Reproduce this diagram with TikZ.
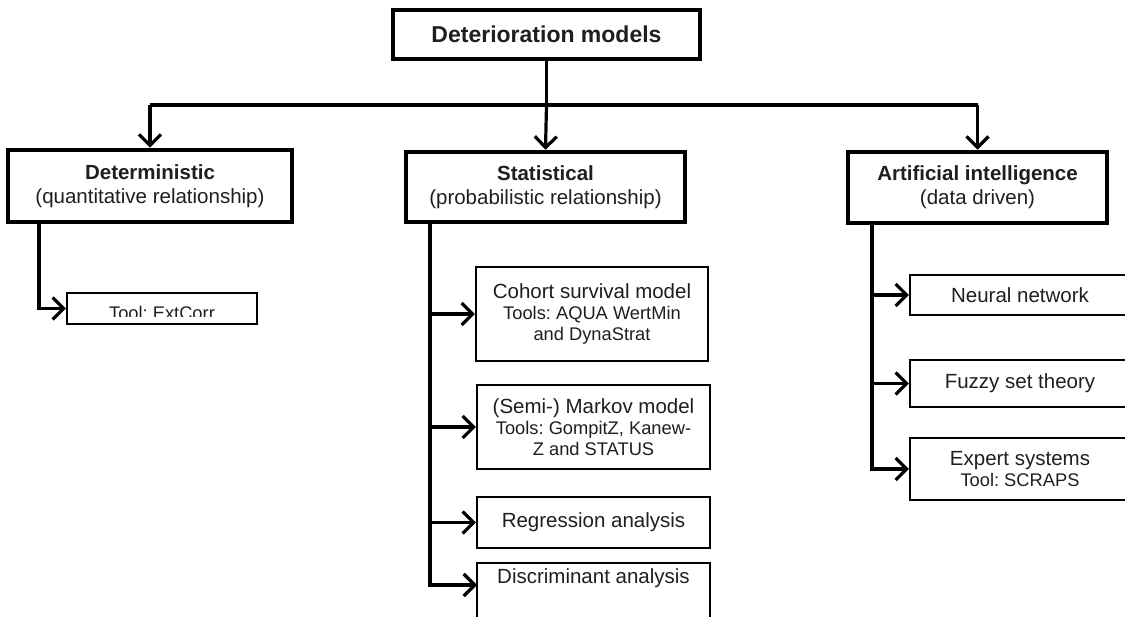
\documentclass[tikz,border=0pt]{standalone}
\usepackage{fontspec}
\setmainfont{Liberation Sans}
\usetikzlibrary{arrows.meta}
\newcommand\toolfont{\fontsize{18.3}{21}\selectfont}
\frenchspacing
\begin{document}
\begin{tikzpicture}[x=1pt,y=-1pt,
  bigbox/.style={draw, line width=4.5pt, inner sep=0pt, align=center, text=black!88, font=\fontsize{20.5}{24}\selectfont},
  smallbox/.style={draw, line width=2.2pt, inner sep=0pt, align=center, text=black!88, font=\fontsize{20.5}{21}\selectfont},
  conn/.style={line width=3.2pt},
  arr/.style={conn, -{Straight Barb[length=11pt,width=22pt,line join=miter]}},
]
\useasboundingbox (0,0) rectangle (1125,617);
\clip (0,0) rectangle (1125,617);
\fill[white] (0,0) rectangle (1125,617);

% top level
\node[bigbox, minimum width=307, minimum height=49, font=\fontsize{23}{26}\selectfont\bfseries] (title) at (546.5,34.5) {Deterioration models};
\node[bigbox, minimum width=284, minimum height=72] (det) at (150,186) {\textbf{Deterministic}\\(quantitative relationship)};
\node[bigbox, minimum width=279, minimum height=70] (stat) at (545.5,187) {\textbf{Statistical}\\(probabilistic relationship)};
\node[bigbox, minimum width=259, minimum height=71] (ai) at (977.5,187.5) {\textbf{Artificial intelligence}\\(data driven)};

\coordinate (hub) at (546.5,105);
\coordinate (hl) at (150,105);
\coordinate (hr) at (977.5,105);
\draw[conn] (title.south) -- (hub);
\draw[conn] (hl) -- (hr);
\draw[arr] (hl) -- (det.north);
\draw[arr] (hub) -- (stat.north);
\draw[arr] (hr) -- (ai.north);

% deterministic branch
\node[smallbox, minimum width=190, minimum height=31] (ext) at (162,308.5) {};
\begin{scope}
  \clip (70,296) rectangle (254,317);
  \node[anchor=base, inner sep=0pt, text=black!88, font=\toolfont] (extt) at (162,320) {Tool: ExtCorr};
\end{scope}
\draw[arr] (det.south -| 39,0) |- (ext.west);

% statistical branch
\node[smallbox, minimum width=232, minimum height=94] (coh) at (592,314) {Cohort survival model\\\toolfont Tools: AQUA WertMin\\\toolfont and DynaStrat};
\node[smallbox, minimum width=233, minimum height=84] (mark) at (593.5,427) {(Semi-) Markov model\\\toolfont Tools: GompitZ, Kanew-\\\toolfont Z and STATUS};
\node[smallbox, minimum width=233, minimum height=51] (reg) at (593.5,522.5) {Regression analysis};
\node[smallbox, minimum width=233, minimum height=80, anchor=north] (disc) at (593.5,562) {};
\node[inner sep=0pt, text=black!88, font=\fontsize{20.5}{21}\selectfont] (disct) at (593.5,578) {Discriminant analysis};
\coordinate (discin) at (477,585);
\draw[arr] (stat.south -| 430,0) |- (coh.west);
\draw[arr] (stat.south -| 430,0) |- (mark.west);
\draw[arr] (stat.south -| 430,0) |- (reg.west);
\draw[arr] (stat.south -| 430,0) |- (discin);

% AI branch
\node[smallbox, minimum width=220, minimum height=40] (neur) at (1020,295) {Neural network};
\node[smallbox, minimum width=220, minimum height=47] (fuz) at (1020,383.5) {Fuzzy set theory};
\node[smallbox, minimum width=220, minimum height=62] (exp) at (1020,469) {Expert systems\\\toolfont Tool: SCRAPS};
\draw[arr] (ai.south -| 872,0) |- (neur.west);
\draw[arr] (ai.south -| 872,0) |- (fuz.west);
\draw[arr] (ai.south -| 872,0) |- (exp.west);
\end{tikzpicture}
\end{document}
